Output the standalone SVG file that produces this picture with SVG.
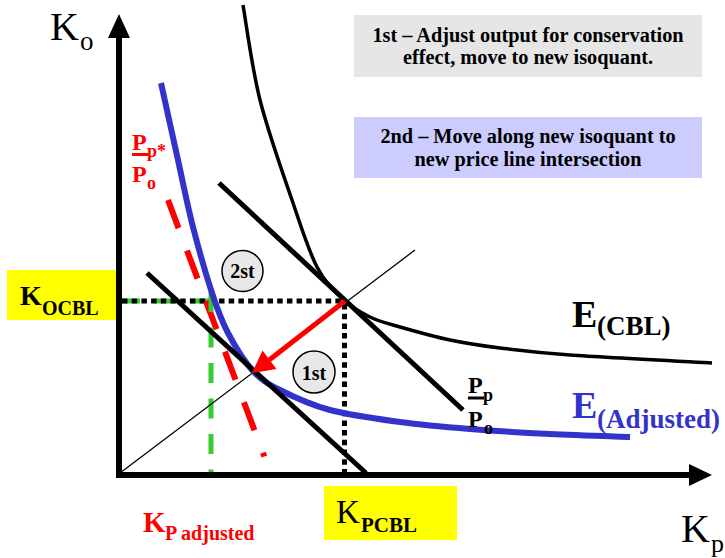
<svg xmlns="http://www.w3.org/2000/svg" width="725" height="558" viewBox="0 0 725 558">
<style>
text{font-family:"Liberation Serif","Times New Roman",serif}
.b{font-weight:bold}
.box{font-size:20.3px;font-weight:bold;text-anchor:middle;fill:#000}
.red{fill:#ff0000}
.blue{fill:#3333cc}
.circ{fill:#e8e8e8;stroke:#000;stroke-width:1.5}
.ax{stroke:#000;stroke-width:6;fill:none}
.pl{stroke:#000;stroke-width:5;fill:none}
.dot{stroke:#000;stroke-width:5;stroke-dasharray:5.5 4.2;fill:none}
.grn{stroke:#33cc33;stroke-width:5;fill:none}
</style>
<rect width="725" height="558" fill="#fff"/>

<g id="note1">
<rect x="354" y="15" width="348" height="62" fill="#e6e6e6"/>
<text class="box" x="528" y="42">1st – Adjust output for conservation</text>
<text class="box" x="528" y="64">effect, move to new isoquant.</text>
</g>
<g id="note2">
<rect x="354" y="117" width="348" height="61" fill="#ccccff"/>
<text class="box" x="528" y="143">2nd – Move along new isoquant to</text>
<text class="box" x="528" y="166">new price line intersection</text>
</g>

<g id="koc-box">
<rect x="7" y="270" width="113" height="50" fill="#ffff00"/>
<text class="b" x="20" y="305" font-size="28">K</text>
<text class="b" x="42" y="315" font-size="20">OCBL</text>
</g>
<g id="kpc-box">
<rect x="324" y="486" width="133" height="54" fill="#ffff00"/>
<text x="336" y="523" font-size="33">K</text>
<text class="b" x="361" y="532" font-size="21">PCBL</text>
</g>

<g id="connectors">
<line class="grn" x1="120" y1="301" x2="211" y2="301" stroke-dasharray="20 15"/>
<line class="dot" x1="122" y1="301" x2="346" y2="301"/>
<line class="dot" x1="344.5" y1="304" x2="344.5" y2="472"/>
<line x1="168" y1="200" x2="264.3" y2="456.5" stroke="#ff0000" stroke-width="6" stroke-dasharray="30 24"/>
<line class="grn" x1="211" y1="292" x2="211" y2="475" stroke-dasharray="20 15.5"/>
<line x1="120" y1="473" x2="415" y2="250" stroke="#000" stroke-width="1.3"/>
<path d="M161,83 C163.8,95.8 172.7,136 178,160 C183.3,184 187.3,204.8 193,227 C198.7,249.2 206.2,275.3 212,293 C217.8,310.7 221.2,320 228,333 C234.8,346 244.3,361.5 253,371 C261.7,380.5 267.2,383.5 280,390 C292.8,396.5 310,404.7 330,410 C350,415.3 376.7,418.8 400,422 C423.3,425.2 445,427 470,429 C495,431 523.3,432.7 550,434 C576.7,435.3 616.7,436.5 630,437" fill="none" stroke="#3333cc" stroke-width="6"/>
<path d="M243,5 C245.8,20.8 251.8,67.5 260,100 C268.2,132.5 282.5,172.2 292,200 C301.5,227.8 308.3,250.3 317,267 C325.7,283.7 335.2,291.7 344,300 C352.8,308.3 360.7,312.5 370,317 C379.3,321.5 386.7,323.2 400,327 C413.3,330.8 433.3,336.5 450,340 C466.7,343.5 480,345.5 500,348 C520,350.5 534.7,352.5 570,355 C605.3,357.5 688.3,361.7 712,363" fill="none" stroke="#000" stroke-width="3.5"/>
<line class="pl" x1="219" y1="183" x2="463" y2="410"/>
<line class="pl" x1="147" y1="273" x2="366" y2="473"/>
<line class="ax" x1="119" y1="36" x2="119" y2="478"/>
<polygon points="119,14 108,38 130,38" fill="#000"/>
<line class="ax" x1="116" y1="475" x2="691" y2="475"/>
<polygon points="712,475 689,464 689,486" fill="#000"/>
<line x1="345" y1="301" x2="269.5" y2="359.7" stroke="#ff0000" stroke-width="5"/>
<polygon points="252,373 262.5,350.6 276.5,368.9" fill="#ff0000"/>
</g>

<g id="step2">
<circle class="circ" cx="242.5" cy="271" r="20.5"/>
<text class="b" x="242.5" y="278" font-size="20" text-anchor="middle">2st</text>
</g>
<g id="step1">
<circle class="circ" cx="314" cy="372" r="21"/>
<text class="b" x="314" y="380" font-size="20" text-anchor="middle">1st</text>
</g>

<g id="label-ko">
<text x="50" y="40" font-size="40">K</text>
<text x="80" y="50" font-size="27">o</text>
</g>
<g id="label-kp">
<text x="681" y="542" font-size="40">K</text>
<text x="711" y="552" font-size="26">p</text>
</g>
<g id="label-kpadj" class="red">
<text class="b" x="143" y="532" font-size="29">K</text>
<text class="b" x="165" y="540" font-size="20">P adjusted</text>
</g>
<g id="label-ppstar" class="red">
<text class="b" x="132" y="150" font-size="24">P</text>
<text class="b" x="147" y="157" font-size="18">p*</text>
<line x1="132" y1="154.5" x2="148" y2="154.5" stroke="#ff0000" stroke-width="3"/>
<text class="b" x="132" y="182" font-size="24">P</text>
<text class="b" x="147" y="189" font-size="18">o</text>
</g>
<g id="label-pp">
<text class="b" x="468" y="393" font-size="24">P</text>
<text class="b" x="483" y="401" font-size="18">p</text>
<line x1="468" y1="398" x2="484" y2="398" stroke="#000" stroke-width="3"/>
<text class="b" x="468" y="427" font-size="24">P</text>
<text class="b" x="484" y="434" font-size="18">o</text>
</g>
<g id="label-ecbl">
<text class="b" x="572" y="327" font-size="38">E</text>
<text class="b" x="597" y="335" font-size="27">(CBL)</text>
</g>
<g id="label-eadj" class="blue">
<text class="b" x="572" y="418" font-size="38">E</text>
<text class="b" x="597" y="428" font-size="27">(Adjusted)</text>
</g>
</svg>
